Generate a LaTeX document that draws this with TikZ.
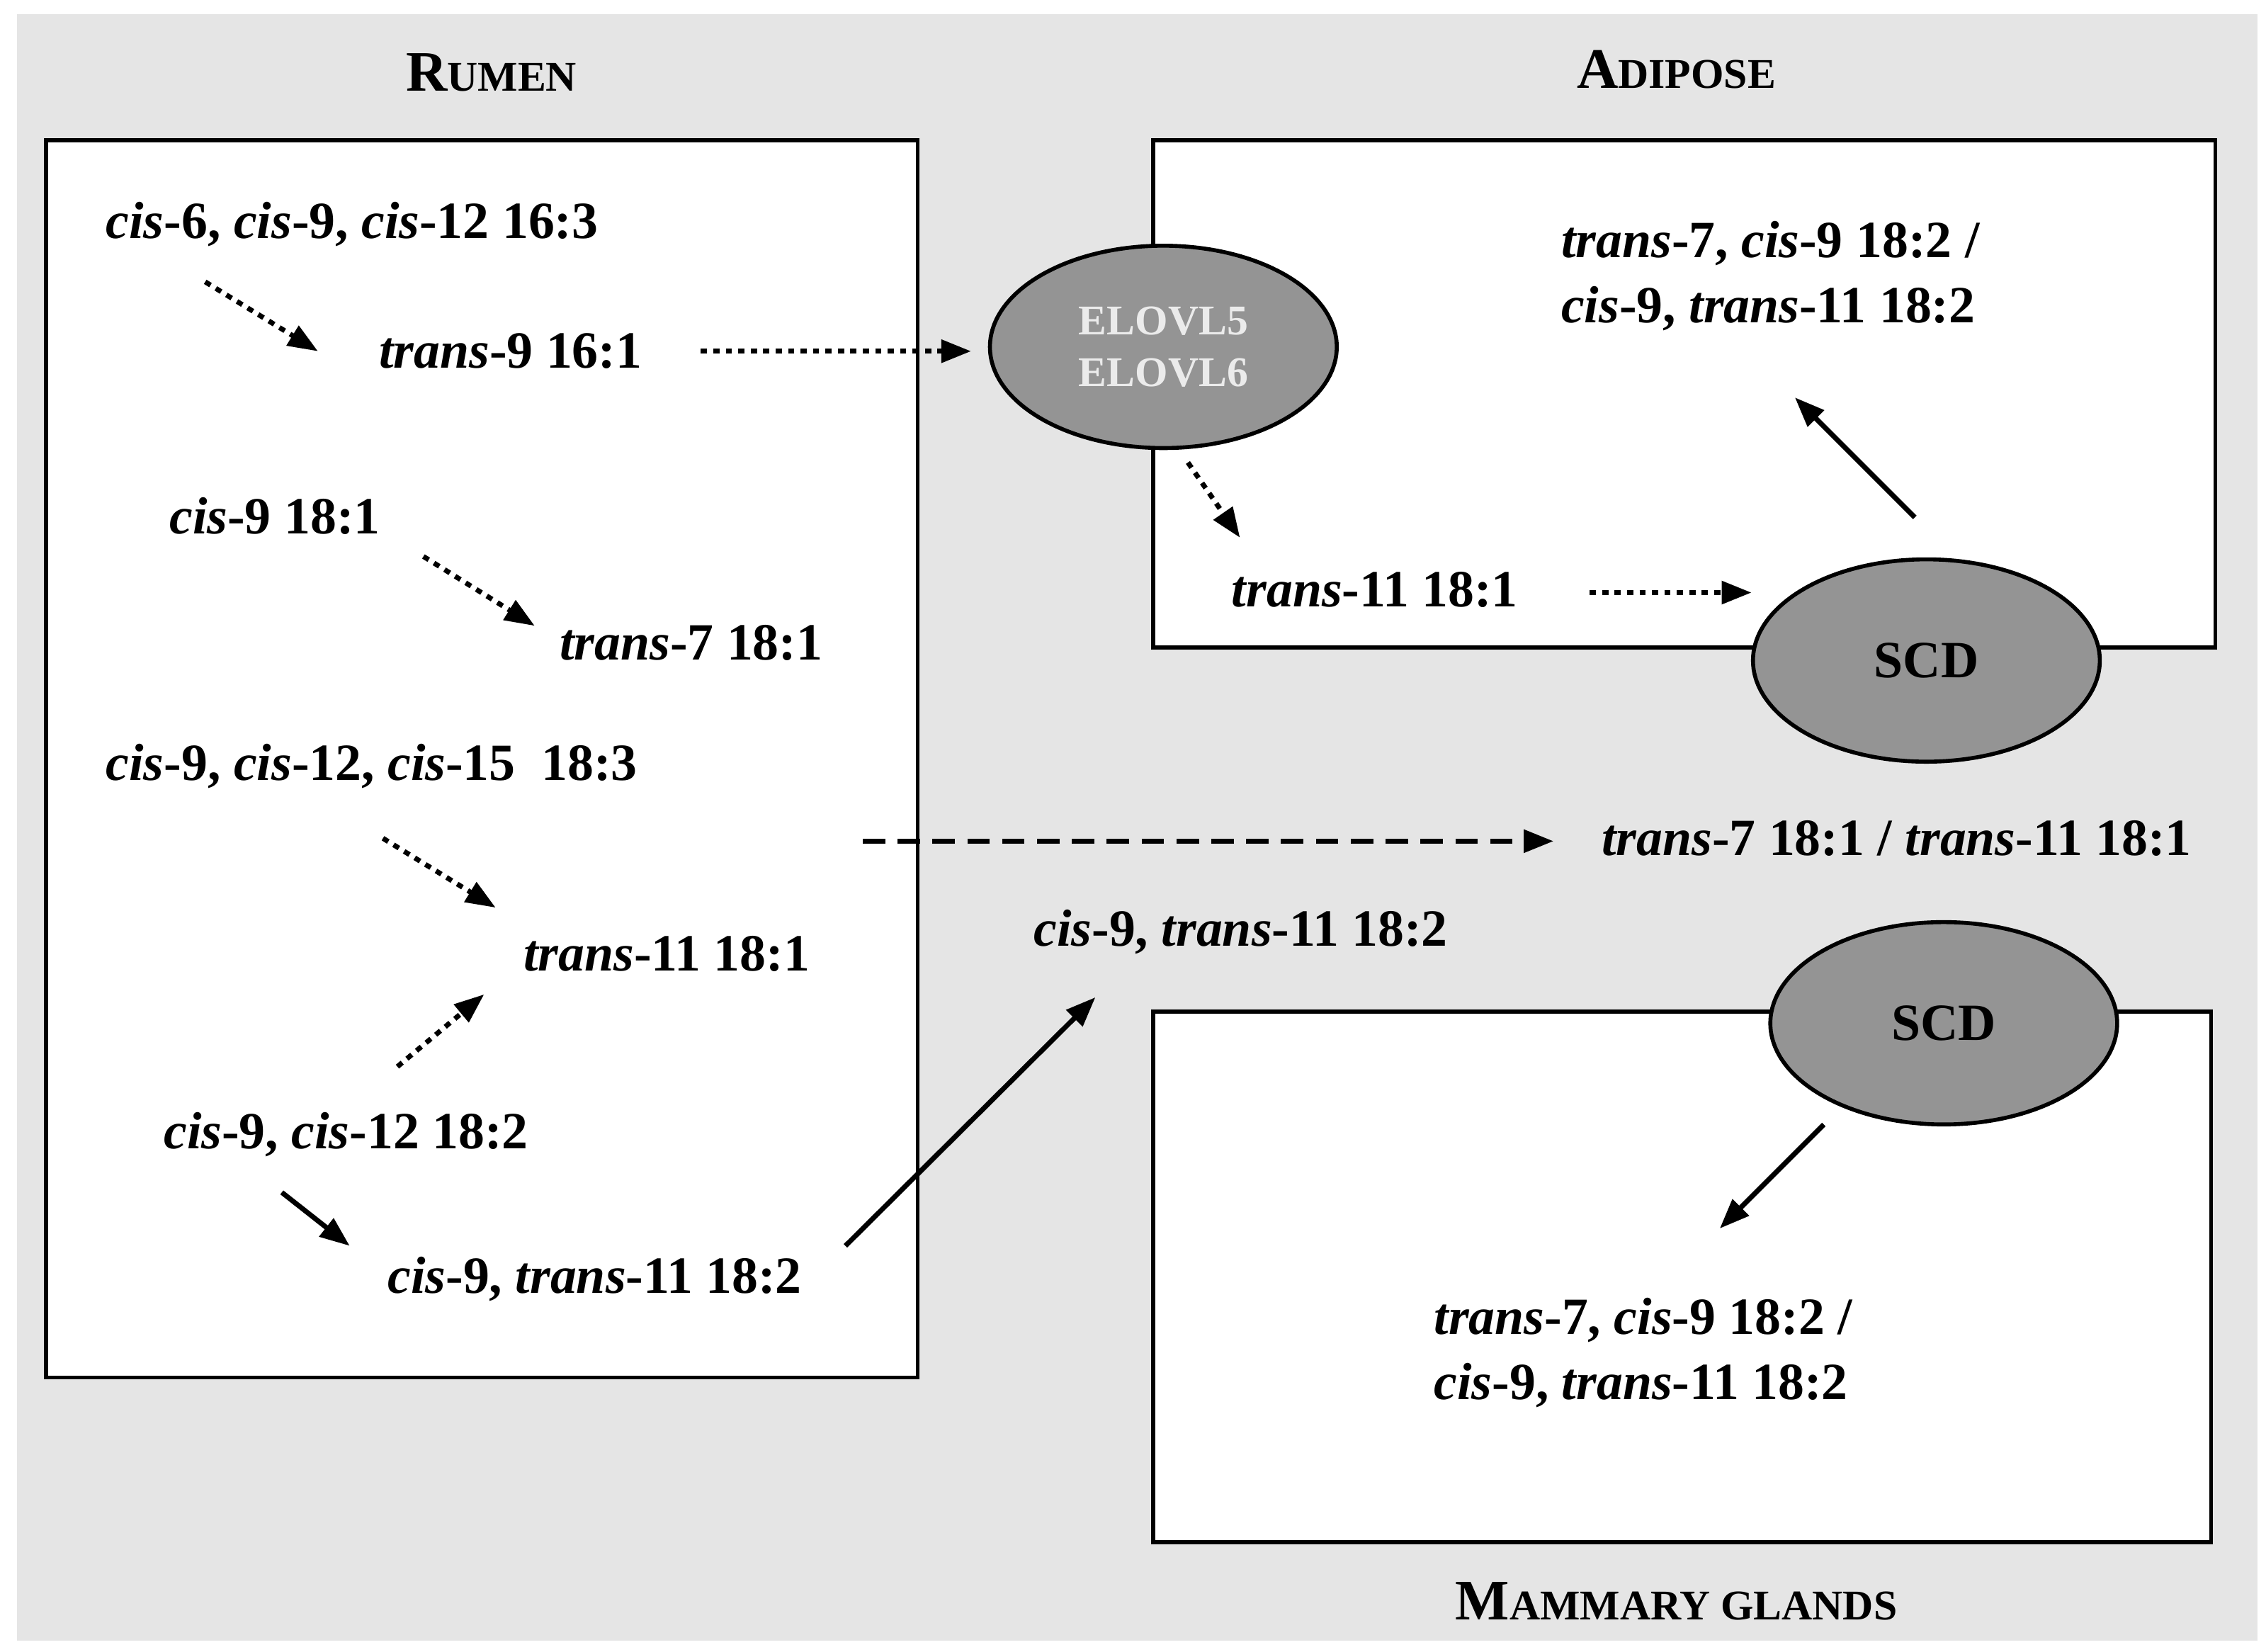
\documentclass[tikz,border=0pt]{standalone}
\usepackage{fontspec}
\setmainfont{Liberation Serif}
\usetikzlibrary{arrows.meta}
\newcommand{\ci}{\textit{cis}}
\newcommand{\tr}{\textit{trans}}
\newcommand{\sm}[1]{{\fontsize{17}{20}\selectfont #1}}
\begin{document}
\begin{tikzpicture}[x=0.0204cm,y=-0.0204cm,
  lab/.style={anchor=west,inner sep=0pt,font=\fontsize{21}{25}\selectfont\bfseries},
  ttl/.style={inner sep=0pt,font=\fontsize{23}{27}\selectfont\bfseries},
  box/.style={draw=black,line width=1.6pt,fill=white},
  enz/.style={draw=black,line width=1.6pt,fill=black!42},
  arr/.style={line width=2pt,-{Triangle[length=12pt,width=9pt]}},
  dot/.style={arr,dash pattern=on 2.5pt off 2.5pt},
  dsh/.style={arr,dash pattern=on 9pt off 5pt}]
\useasboundingbox (0,0) rectangle (1568,1142.6);
\fill[black!10] (12,10) rectangle (1562,1135);
\draw[box] (32,97) rectangle (635,953);
\draw[box] (798,97) rectangle (1533,448);
\draw[box] (798,700) rectangle (1530,1067);
\node[ttl] at (340,50) {R\sm{UMEN}};
\node[ttl] at (1160,48) {A\sm{DIPOSE}};
\node[ttl] at (1160,1108) {M\sm{AMMARY GLANDS}};
\draw[enz] (805,240) ellipse [x radius=120,y radius=70];
\node[align=center,text=white!92!black,font=\fontsize{17}{21}\selectfont\bfseries] (elo) at (805,240) {ELOVL5\\ELOVL6};
\draw[enz] (1333,457) ellipse [x radius=120,y radius=70];
\node[font=\fontsize{21}{25}\selectfont\bfseries] (scda) at (1333,457) {SCD};
\draw[enz] (1345,708) ellipse [x radius=120,y radius=70];
\node[font=\fontsize{21}{25}\selectfont\bfseries] (scdm) at (1345,708) {SCD};
\node[lab] (a1) at (73,155) {\ci-6, \ci-9, \ci-12 16:3};
\node[lab] (a2) at (262,243) {\tr-9 16:1};
\node[lab] (b1) at (117,357) {\ci-9 18:1};
\node[lab] (b2) at (387,445) {\tr-7 18:1};
\node[lab] (c1) at (73,530) {\ci-9, \ci-12, \ci-15\ \ 18:3};
\node[lab] (c2) at (362,660) {\tr-11 18:1};
\node[lab] (d1) at (113,785) {\ci-9, \ci-12 18:2};
\node[lab] (d2) at (268,885) {\ci-9, \tr-11 18:2};
\node[lab,align=left] (e1) at (1080,191) {\tr-7, \ci-9 18:2 /\\[1pt]\ci-9, \tr-11 18:2};
\node[lab] (e2) at (852,408) {\tr-11 18:1};
\node[lab] (f1) at (1108,580) {\tr-7 18:1 / \tr-11 18:1};
\node[lab] (f2) at (715,645) {\ci-9, \tr-11 18:2};
\node[lab,align=left] (g1) at (992,936) {\tr-7, \ci-9 18:2 /\\[1pt]\ci-9, \tr-11 18:2};
\draw[dot] (142,195) -- (220,243);
\draw[dot] (485,243) -- (672,243);
\draw[dot] (293,385) -- (370,433);
\draw[dot] (265,580) -- (343,628);
\draw[dot] (275,738) -- (335,688);
\draw[arr] (195,825) -- (242,862);
\draw[arr] (585,862) -- (758,690);
\draw[dsh] (597,582) -- (1075,582);
\draw[dot] (822,320) -- (858,372);
\draw[dot] (1100,410) -- (1212,410);
\draw[arr] (1325,358) -- (1242,275);
\draw[arr] (1262,778) -- (1190,850);
\end{tikzpicture}
\end{document}
